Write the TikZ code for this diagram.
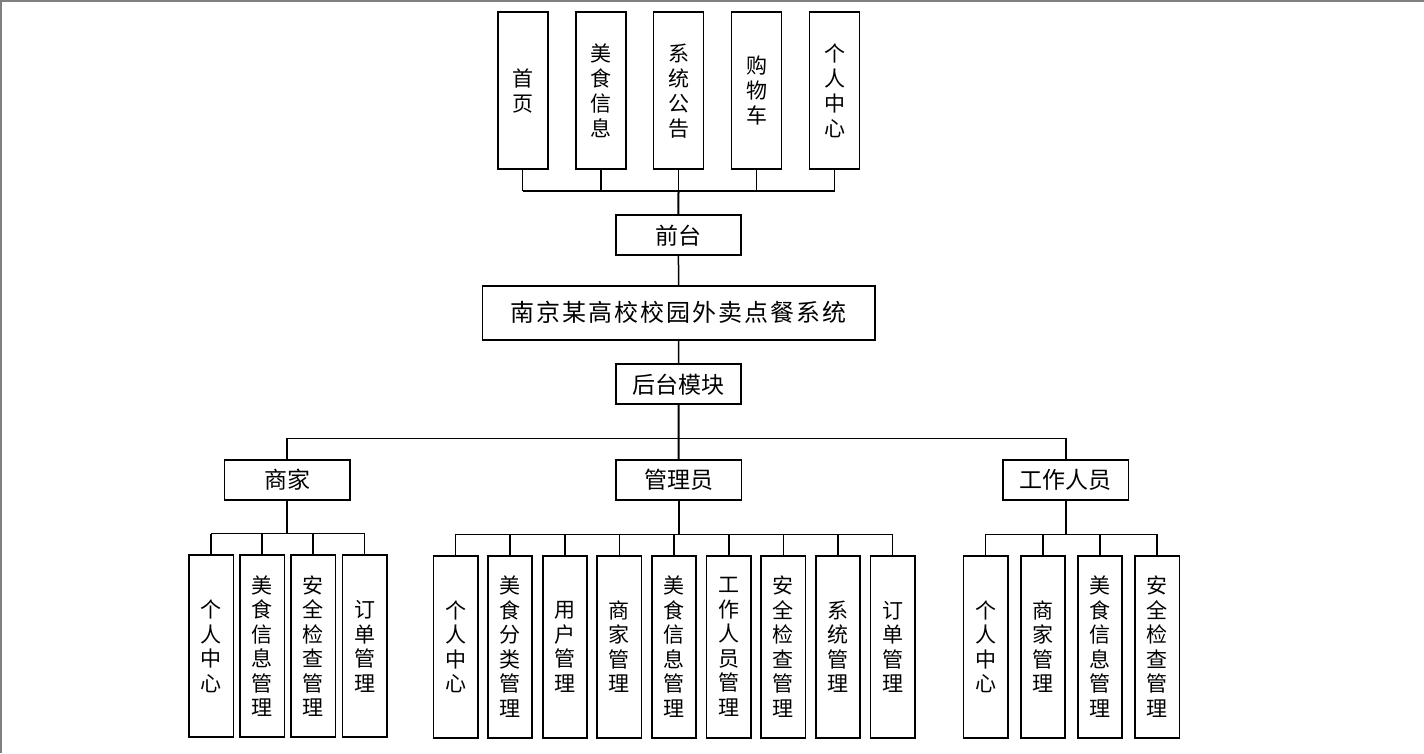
\documentclass[tikz,border=0pt]{standalone}
\usepackage{fontspec}
\setmainfont{Noto Sans CJK SC}
\newcommand\ks{\kern2pt}
\begin{document}
\begin{tikzpicture}[x=1pt,y=-1pt,
  box/.style={draw, line width=1.7pt, inner sep=0pt, align=center},
  tbox/.style={box, minimum width=50pt, minimum height=157pt, font=\fontsize{21}{25}\selectfont},
  hbox/.style={box, minimum width=125.5pt, minimum height=40pt, font=\fontsize{23}{26}\selectfont},
  vbox/.style={box, minimum width=44.3pt, minimum height=182pt, font=\fontsize{21}{24.5}\selectfont},
  conn/.style={line width=1.5pt},
  trunk/.style={line width=2pt}]
\useasboundingbox (0,0) rectangle (1424,753);
\draw[gray, line width=1.5pt] (0.75,753) -- (0.75,0.75) -- (1424,0.75);

% top level
\foreach \i/\x/\t in {1/522.7/{首\\页},2/600.8/{美\\食\\信\\息},3/678.5/{系\\统\\公\\告},4/756.5/{购\\物\\车},5/834.5/{个\\人\\中\\心}}
  \node[tbox] (t\i) at (\x,90.8) {\t};
\node[hbox] (qt) at (678.4,235.3) {前台};
\node[box, minimum width=392.7pt, minimum height=54.3pt, font=\fontsize{24}{28}\selectfont] (sys) at (678.7,312.8)
  {南\ks 京\ks 某\ks 高\ks 校\ks 校\ks 园\ks 外\ks 卖\ks 点\ks 餐\ks 系\ks 统};
\node[hbox] (ht) at (678.5,384.3) {后台模块};

\coordinate (bt) at (678.5,191);
\foreach \i in {1,...,5} \draw[conn] (t\i.south) -- (t\i.south |- bt);
\draw[conn] (t1.south |- bt) -- (t5.south |- bt);
\draw[trunk] (bt) -- (qt.north);
\draw[conn] (qt.south) -- (sys.north);
\draw[conn] (sys.south) -- (ht.north);

% second level
\node[hbox] (sj) at (287.2,480) {商家};
\node[hbox] (gl) at (678.6,480) {管理员};
\node[hbox] (gz) at (1065.8,480) {工作人员};
\coordinate (b2) at (678.5,438.3);
\draw[trunk] (ht.south) -- (gl.north);
\draw[conn] (sj.north) -- (sj.north |- b2) -- (gz.north |- b2) -- (gz.north);

% third level: 商家
\foreach \i/\x/\t in {1/211.2/{个\\人\\中\\心},2/262.2/{美\\食\\信\\息\\管\\理},3/313.2/{安\\全\\检\\查\\管\\理},4/364.5/{订\\单\\管\\理}}
  \node[vbox] (s\i) at (\x,646.3) {\t};
\coordinate (bs) at (287.2,533.5);
\draw[trunk] (sj.south) -- (bs);
\draw[conn] (s1.north |- bs) -- (s4.north |- bs);
\foreach \i in {1,...,4} \draw[conn] (s\i.north) -- (s\i.north |- bs);

% third level: 管理员
\foreach \i/\t in {0/{个\\人\\中\\心},1/{美\\食\\分\\类\\管\\理},2/{用\\户\\管\\理},3/{商\\家\\管\\理},4/{美\\食\\信\\息\\管\\理},5/{工\\作\\人\\员\\管\\理},6/{安\\全\\检\\查\\管\\理},7/{系\\统\\管\\理},8/{订\\单\\管\\理}}
  \node[vbox] (g\i) at ({455.5+54.65*\i},646.7) {\t};
\coordinate (bg) at (678.6,534.3);
\draw[trunk] (gl.south) -- (bg);
\draw[conn] (g0.north |- bg) -- (g8.north |- bg);
\foreach \i in {0,...,8} \draw[conn] (g\i.north) -- (g\i.north |- bg);

% third level: 工作人员
\foreach \i/\x/\t in {1/985.7/{个\\人\\中\\心},2/1042.8/{商\\家\\管\\理},3/1100.1/{美\\食\\信\\息\\管\\理},4/1157.2/{安\\全\\检\\查\\管\\理}}
  \node[vbox] (w\i) at (\x,646.7) {\t};
\coordinate (bw) at (1065.8,534.3);
\draw[trunk] (gz.south) -- (bw);
\draw[conn] (w1.north |- bw) -- (w4.north |- bw);
\foreach \i in {1,...,4} \draw[conn] (w\i.north) -- (w\i.north |- bw);
\end{tikzpicture}
\end{document}
